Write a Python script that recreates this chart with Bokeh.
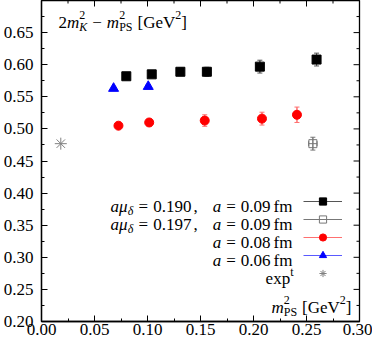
from bokeh.plotting import figure
from bokeh.models import (ColumnDataSource, Whisker, TeeHead, Range1d, FixedTicker,
                          NumeralTickFormatter, Label, Legend, LegendItem)
from bokeh.embed import file_html
from bokeh.resources import INLINE

# ---------------- data ----------------
sq190_x = [0.080, 0.104, 0.131, 0.156, 0.206, 0.2595]
sq190_y = [0.582, 0.585, 0.589, 0.589, 0.597, 0.608]
sq190_err = [0.004, 0.005, 0.006, 0.007, 0.010, 0.010]

sq197_x = [0.256]
sq197_y = [0.477]
sq197_xerr = [0.004]
sq197_yerr = [0.010]

a08_x = [0.0726, 0.1016, 0.154, 0.208, 0.241]
a08_y = [0.505, 0.510, 0.513, 0.516, 0.522]
a08_err = [0.004, 0.005, 0.009, 0.010, 0.012]

a06_x = [0.068, 0.1007]
a06_y = [0.563, 0.566]
a06_err = [0.003, 0.003]

exp_x = [0.0182]
exp_y = [0.477]

x_ticks = [0.00, 0.05, 0.10, 0.15, 0.20, 0.25, 0.30]
x_minor = [0.025, 0.075, 0.125, 0.175, 0.225, 0.275]
y_ticks = [0.20, 0.25, 0.30, 0.35, 0.40, 0.45, 0.50, 0.55, 0.60, 0.65]
y_minor = [0.225, 0.275, 0.325, 0.375, 0.425, 0.475, 0.525, 0.575, 0.625, 0.675]

X0, X1 = 0.0, 0.30
Y0, Y1 = 0.20, 0.70

FONT = "Liberation Serif"
F = 17
S = 12
FRAME_W = 321
FRAME_H = 321

p = figure(width=372, height=341, output_backend="svg", toolbar_location=None,
           x_range=Range1d(X0, X1), y_range=Range1d(Y0, Y1),
           min_border_left=38, min_border_right=13, min_border_top=0, min_border_bottom=20)
p.xgrid.visible = False
p.ygrid.visible = False
p.outline_line_color = "black"
p.outline_line_width = 1.3
p.background_fill_color = "white"
p.border_fill_color = "white"


def style_axis(ax, ticks, minor, standoff):
    ax.ticker = FixedTicker(ticks=ticks, minor_ticks=minor)
    ax.formatter = NumeralTickFormatter(format="0.00")
    ax.major_tick_in = 6
    ax.major_tick_out = 0
    ax.minor_tick_in = 3
    ax.minor_tick_out = 0
    ax.major_tick_line_color = "black"
    ax.minor_tick_line_color = "black"
    ax.axis_line_color = "black"
    ax.axis_line_width = 1.3
    ax.major_label_text_font = FONT
    ax.major_label_text_color = "black"
    ax.major_label_text_font_size = f"{F}px"
    ax.major_label_standoff = standoff


style_axis(p.xaxis[0], x_ticks, x_minor, standoff=2)
style_axis(p.yaxis[0], y_ticks, y_minor, standoff=8)

# mirrored inward ticks on the top and right frame edges
dx_major = 6 * (X1 - X0) / FRAME_W
dx_minor = 3 * (X1 - X0) / FRAME_W
dy_major = 6 * (Y1 - Y0) / FRAME_H
dy_minor = 3 * (Y1 - Y0) / FRAME_H
p.segment(x0=x_ticks, y0=[Y1] * len(x_ticks), x1=x_ticks, y1=[Y1 - dy_major] * len(x_ticks),
          line_color="black", line_width=1)
p.segment(x0=x_minor, y0=[Y1] * len(x_minor), x1=x_minor, y1=[Y1 - dy_minor] * len(x_minor),
          line_color="black", line_width=1)
p.segment(x0=[X1] * len(y_ticks), y0=y_ticks, x1=[X1 - dx_major] * len(y_ticks), y1=y_ticks,
          line_color="black", line_width=1)
p.segment(x0=[X1] * len(y_minor), y0=y_minor, x1=[X1 - dx_minor] * len(y_minor), y1=y_minor,
          line_color="black", line_width=1)


def make_src(xs, ys, yerr, xerr=None):
    d = dict(x=xs, y=ys,
             lo=[y - e for y, e in zip(ys, yerr)],
             hi=[y + e for y, e in zip(ys, yerr)])
    if xerr is not None:
        d["xl"] = [x - e for x, e in zip(xs, xerr)]
        d["xh"] = [x + e for x, e in zip(xs, xerr)]
    return ColumnDataSource(d)


def errbars(src, color, dim="height"):
    if dim == "height":
        kw = dict(base="x", lower="lo", upper="hi", dimension="height")
    else:
        kw = dict(base="y", lower="xl", upper="xh", dimension="width")
    p.add_layout(Whisker(source=src, line_color=color, line_width=1,
                         upper_head=TeeHead(size=5, line_color=color, line_width=1),
                         lower_head=TeeHead(size=5, line_color=color, line_width=1), **kw))


src190 = make_src(sq190_x, sq190_y, sq190_err)
src197 = make_src(sq197_x, sq197_y, sq197_yerr, sq197_xerr)
src08 = make_src(a08_x, a08_y, a08_err)
src06 = make_src(a06_x, a06_y, a06_err)
srcexp = ColumnDataSource(dict(x=exp_x, y=exp_y))

C190 = "#555555"
C197 = "#777777"
C08 = "#ff7070"
C06 = "#5a5aff"

seg190 = p.segment(x0="x", y0="lo", x1="x", y1="hi", source=src190, line_color=C190, line_width=1)
seg197 = p.segment(x0="x", y0="lo", x1="x", y1="hi", source=src197, line_color=C197, line_width=1)
seg08 = p.segment(x0="x", y0="lo", x1="x", y1="hi", source=src08, line_color=C08, line_width=1)
seg06 = p.segment(x0="x", y0="lo", x1="x", y1="hi", source=src06, line_color=C06, line_width=1)
errbars(src190, C190)
errbars(src197, C197)
errbars(src197, C197, dim="width")
errbars(src08, C08)
errbars(src06, C06)

sc190 = p.scatter(x="x", y="y", source=src190, marker="square", size=9,
                  fill_color="black", line_color="black")
sc197 = p.scatter(x="x", y="y", source=src197, marker="square", size=8,
                  fill_color=None, line_color=C197, line_width=1)
sc08 = p.scatter(x="x", y="y", source=src08, marker="circle", size=9,
                 fill_color="red", line_color="red")
sc06 = p.scatter(x="x", y="y", source=src06, marker="triangle", size=10,
                 fill_color="blue", line_color="blue")
scexp = p.scatter(x="x", y="y", source=srcexp, marker="asterisk", size=12,
                  line_color="#808080", line_width=1)

legend = Legend(items=[
    LegendItem(label=" ", renderers=[seg190, sc190]),
    LegendItem(label=" ", renderers=[seg197, sc197]),
    LegendItem(label=" ", renderers=[seg08, sc08]),
    LegendItem(label=" ", renderers=[seg06, sc06]),
    LegendItem(label=" ", renderers=[scexp]),
], location=(262, 39), glyph_width=39, glyph_height=18, label_width=0, label_height=18,
    label_standoff=0, label_text_font_size="10px", spacing=0, padding=0, margin=0,
    border_line_color=None, background_fill_alpha=0)
p.add_layout(legend)

# ---------------- text rendering (math-like runs) ----------------
ROMAN = {" ": 250, "=": 564, ".": 250, ",": 250, "a": 444, "f": 333, "m": 778, "G": 722,
         "e": 444, "V": 722, "[": 333, "]": 333, "P": 556, "S": 556, "x": 500, "p": 500,
         "t": 278, "\u2212": 564}
ITALIC = {"a": 500, "m": 722, "K": 667, "\u03bc": 520, "\u03b4": 480}


def tw(t, size, style):
    tab = ITALIC if style == "italic" else ROMAN
    return sum(tab.get(ch, 500) for ch in t) * size / 1000.0


def gap(px):
    return ("__gap__", px)


def stack(sup, sub, sub_style="normal"):
    return ("__stack__", (sup, S, "normal", 7.5), (sub, S, sub_style, -4.5))


def width_of(pt):
    if pt[0] == "__gap__":
        return pt[1]
    if pt[0] == "__stack__":
        return max(tw(q[0], q[1], q[2]) for q in pt[1:])
    return tw(pt[0], pt[1], pt[2])


def runs(parts, x, y, align="left"):
    total = sum(width_of(pt) for pt in parts)
    cx = x - total if align == "right" else x
    for pt in parts:
        if pt[0] != "__gap__":
            items = pt[1:] if pt[0] == "__stack__" else [pt]
            for (t, size, style, dy) in items:
                p.add_layout(Label(x=cx, y=y + dy, x_units="screen", y_units="screen", text=t,
                                   text_font=FONT, text_font_size=f"{size}px",
                                   text_font_style=style, text_color="black",
                                   text_baseline="alphabetic", text_align="left"))
        cx += width_of(pt)


R = "normal"
I = "italic"

# title, top-left
runs([("2", F, R, 0), ("m", F, I, 0), stack("2", "K", I), gap(5),
      ("\u2212", F, R, 0), gap(5), ("m", F, I, 0), stack("2", "PS"), gap(5),
      ("[GeV", F, R, 0), ("2", S, R, 7.5), ("]", F, R, 0)], 17, 299)

# legend texts
RX = 251
rows_y = [115.5, 97.5, 79.5, 61.5, 43.5]
for yy, val in [(rows_y[0], "0.190"), (rows_y[1], "0.197")]:
    runs([("a", F, I, 0), ("\u03bc", F, I, 0), ("\u03b4", S, I, -4.5), gap(5),
          ("=", F, R, 0), gap(5), (val, F, R, 0), gap(2), (",", F, R, 0)], 69, yy)
for yy, val in [(rows_y[0], "0.09"), (rows_y[1], "0.09"), (rows_y[2], "0.08"), (rows_y[3], "0.06")]:
    runs([("a", F, I, 0), gap(5), ("=", F, R, 0), gap(5), (val, F, R, 0), gap(3),
          ("fm", F, R, 0)], RX, yy, align="right")
runs([("exp", F, R, 0), ("t", S, R, 6.5)], RX + 1, rows_y[4], align="right")

# x axis label inside plot, bottom right
runs([("m", F, I, 0), stack("2", "PS"), gap(5), ("[GeV", F, R, 0),
      ("2", S, R, 7.5), ("]", F, R, 0)], 310, 14, align="right")

open("out.html", "w").write(file_html(p, INLINE))
